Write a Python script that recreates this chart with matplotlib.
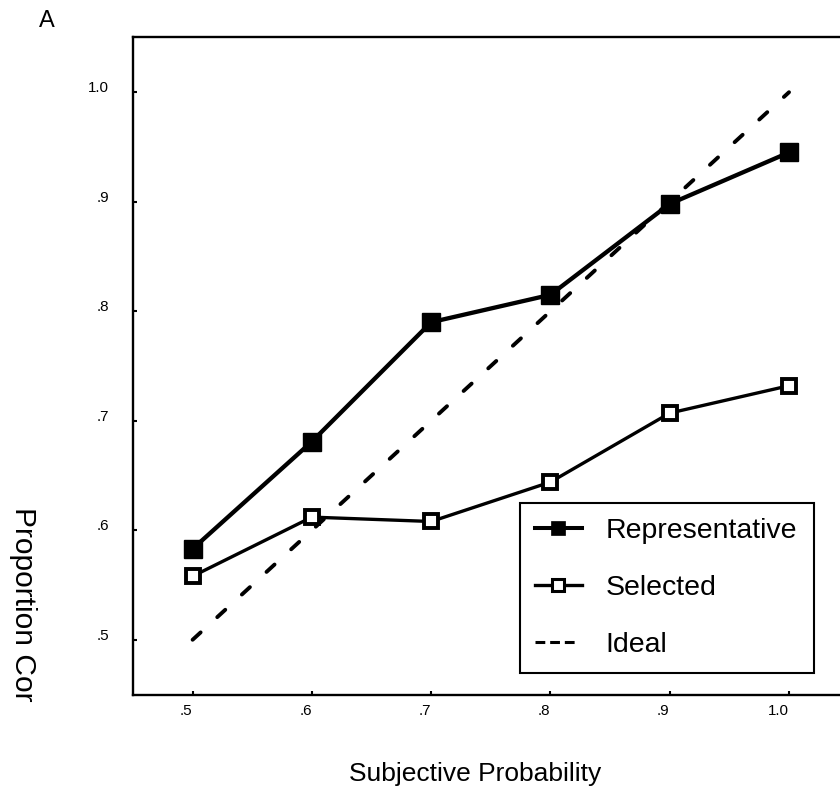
import matplotlib
matplotlib.use("Agg")
import matplotlib.pyplot as plt
from matplotlib import font_manager
from matplotlib.lines import Line2D

# data
probs = [0.5, 0.6, 0.7, 0.8, 0.9, 1.0]
representative = [0.583, 0.681, 0.790, 0.815, 0.898, 0.945]
selected = [0.558, 0.612, 0.608, 0.644, 0.707, 0.732]
ideal_x = [0.5, 1.0]
ideal_y = [0.5, 1.0]
tick_vals = [0.5, 0.6, 0.7, 0.8, 0.9, 1.0]
tick_labels = [".5", ".6", ".7", ".8", ".9", "1.0"]
legend_labels = ["Representative", "Selected", "Ideal"]

names = {f.name for f in font_manager.fontManager.ttflist}
narrow = "Liberation Sans Narrow" if "Liberation Sans Narrow" in names else "Liberation Sans"
# regular width font is wider, so shrink a bit when narrow one is missing
k = 1.0 if narrow == "Liberation Sans Narrow" else 0.88

fig = plt.figure(figsize=(8.4, 7.94), dpi=100)
ax = fig.add_axes([0.1583, 0.1253, 0.852, 0.8275])

ax.plot(ideal_x, ideal_y, color="k", lw=2.8, dashes=(2.8, 5.8),
        dash_capstyle="round", zorder=1)
ax.plot(probs, representative, color="k", lw=3.1, marker="s", ms=13.3,
        mfc="k", mec="k", mew=1, zorder=3)
ax.plot(probs, selected, color="k", lw=2.4, marker="s", ms=10,
        mfc="white", mec="k", mew=2.8, zorder=2)

ax.set_xlim(0.45, 1.05)
ax.set_ylim(0.45, 1.05)
ax.set_xticks(tick_vals)
ax.set_xticklabels(tick_labels)
ax.set_yticks(tick_vals)
ax.set_yticklabels(tick_labels)

ax.spines["right"].set_visible(False)
for s in ["left", "top", "bottom"]:
    ax.spines[s].set_linewidth(1.7)
ax.tick_params(direction="in", length=3, width=1.5, labelsize=12.4 * k)
ax.tick_params(axis="x", pad=6.5)
ax.tick_params(axis="y", pad=17)
for lab in ax.get_xticklabels():
    lab.set_fontfamily(narrow)
    lab.set_ha("right")
for lab in ax.get_yticklabels():
    lab.set_fontfamily(narrow)
    lab.set_va("baseline")

# legend with proxy handles
handles = [
    Line2D([], [], color="k", lw=2.9, marker="s", ms=10.5, mfc="k", mec="k", mew=0.5),
    Line2D([], [], color="k", lw=2.4, marker="s", ms=8.5, mfc="white", mec="k", mew=2.2),
    Line2D([], [], color="k", lw=2.2, dashes=(3.2, 1.6, 3.2, 1.6, 3.2, 12)),
]
leg_fs = 23.3 * k
leg = ax.legend(handles, legend_labels, loc="upper left",
                bbox_to_anchor=(520 / 840, 1 - 503 / 794, 294 / 840, 0),
                bbox_transform=fig.transFigure, mode="expand",
                prop={"family": narrow, "size": leg_fs},
                handlelength=47 / (leg_fs * 1.389), handletextpad=0.84,
                labelspacing=1.1, borderpad=0.52, borderaxespad=0,
                fancybox=False, framealpha=1, edgecolor="k")
leg.get_frame().set_linewidth(1.5)

fig.text(39 / 840, 1 - 27 / 794, "A", family="Liberation Sans", size=17,
         va="baseline", ha="left")
fig.text(37 / 840, 1 - 507 / 794, "Proportion Cor", family="Liberation Sans",
         size=21.6, rotation=270, ha="right", va="top")
fig.text(475 / 840, 1 - 781 / 794, "Subjective Probability", family=narrow,
         size=21.6 * k, ha="center", va="baseline")

fig.savefig("out.png", dpi=100)
